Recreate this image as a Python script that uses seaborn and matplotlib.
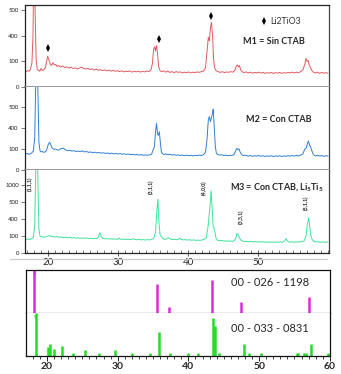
import matplotlib
matplotlib.use("Agg")
import matplotlib.pyplot as plt
from matplotlib.ticker import MultipleLocator, FixedLocator, NullLocator
from matplotlib.lines import Line2D
import seaborn as sns

# ---- data ----
# M1 = Sin CTAB (red)
m1_2theta = [16.7, 16.9, 17.1, 17.3, 17.5, 17.7, 17.85, 18.0, 18.15, 18.3, 18.45, 18.6, 18.8, 19.0,
             19.2, 19.4, 19.6, 19.8, 19.95, 20.1, 20.3, 20.5, 20.7, 20.9, 21.1, 21.3, 21.5, 21.8,
             22.1, 22.4, 22.7, 23.0, 23.3, 23.6, 23.9, 24.2, 24.5, 24.8, 25.1, 25.4, 25.7, 26.0,
             26.3, 26.6, 26.9, 27.2, 27.5, 27.8, 28.1, 28.4, 28.7, 29.0, 29.3, 29.6, 29.9, 30.2,
             30.5, 30.8, 31.1, 31.4, 31.7, 32.0, 32.3, 32.6, 32.9, 33.2, 33.5, 33.8, 34.1, 34.4,
             34.7, 34.9, 35.1, 35.25, 35.35, 35.5, 35.65, 35.8, 36.0, 36.2, 36.5, 36.8, 37.1, 37.4,
             37.7, 38.0, 38.3, 38.6, 38.9, 39.2, 39.5, 39.8, 40.1, 40.4, 40.7, 41.0, 41.3, 41.6,
             41.9, 42.2, 42.5, 42.75, 42.9, 43.05, 43.2, 43.35, 43.5, 43.65, 43.8, 44.0, 44.3, 44.6,
             44.9, 45.2, 45.5, 45.8, 46.1, 46.4, 46.7, 46.9, 47.05, 47.2, 47.35, 47.5, 47.7, 48.0,
             48.3, 48.6, 48.9, 49.2, 49.5, 49.8, 50.1, 50.4, 50.7, 51.0, 51.3, 51.6, 51.9, 52.2,
             52.5, 52.8, 53.1, 53.4, 53.7, 54.0, 54.3, 54.6, 54.9, 55.2, 55.5, 55.8, 56.1, 56.4,
             56.7, 56.85, 57.0, 57.15, 57.3, 57.5, 57.7, 57.9, 58.2, 58.5, 58.8, 59.1, 59.4, 59.7,
             60.0]
m1_counts = [66, 60, 64, 62, 70, 95, 200, 520, 300, 110, 70, 66, 62, 72,
             64, 68, 75, 100, 120, 108, 90, 84, 95, 86, 88, 80, 84, 78,
             82, 76, 79, 74, 77, 72, 75, 70, 74, 78, 72, 70, 73, 68,
             71, 66, 70, 65, 68, 64, 67, 63, 66, 62, 65, 61, 64, 60,
             63, 59, 62, 60, 63, 58, 61, 59, 62, 58, 61, 59, 62, 60,
             66, 90, 150, 157, 140, 162, 130, 80, 64, 60, 63, 58, 62, 57,
             60, 56, 60, 57, 59, 55, 58, 56, 59, 55, 58, 56, 59, 57,
             60, 62, 75, 150, 194, 180, 230, 252, 200, 110, 75, 64, 60, 57,
             60, 56, 59, 57, 60, 58, 65, 82, 86, 78, 84, 68, 60, 56,
             59, 55, 58, 54, 57, 55, 58, 54, 57, 53, 56, 54, 57, 53,
             56, 54, 57, 53, 56, 54, 57, 55, 58, 55, 58, 56, 60, 66,
             90, 112, 100, 104, 88, 75, 64, 58, 55, 58, 53, 57, 54, 56,
             53]

# M2 = Con CTAB (blue)
m2_2theta = [16.7, 16.9, 17.1, 17.3, 17.5, 17.7, 17.9, 18.1, 18.25, 18.4, 18.55, 18.7, 18.85, 19.0,
             19.2, 19.4, 19.6, 19.8, 20.0, 20.2, 20.35, 20.5, 20.7, 20.9, 21.1, 21.3, 21.5, 21.7,
             21.9, 22.2, 22.5, 22.8, 23.1, 23.4, 23.7, 24.0, 24.3, 24.6, 24.9, 25.2, 25.5, 25.8,
             26.1, 26.4, 26.7, 27.0, 27.3, 27.6, 27.9, 28.2, 28.5, 28.8, 29.1, 29.4, 29.7, 30.0,
             30.3, 30.6, 30.9, 31.2, 31.5, 31.8, 32.1, 32.4, 32.7, 33.0, 33.3, 33.6, 33.9, 34.2,
             34.5, 34.8, 35.0, 35.2, 35.35, 35.5, 35.65, 35.75, 35.9, 36.05, 36.2, 36.4, 36.6, 36.8,
             37.1, 37.4, 37.7, 38.0, 38.3, 38.6, 38.9, 39.2, 39.5, 39.8, 40.1, 40.4, 40.7, 41.0,
             41.3, 41.6, 41.9, 42.2, 42.5, 42.7, 42.9, 43.05, 43.2, 43.35, 43.5, 43.6, 43.75, 43.9,
             44.05, 44.2, 44.5, 44.8, 45.1, 45.4, 45.7, 46.0, 46.3, 46.6, 46.85, 47.0, 47.15, 47.3,
             47.45, 47.7, 48.0, 48.3, 48.6, 48.9, 49.2, 49.5, 49.8, 50.1, 50.4, 50.7, 51.0, 51.3,
             51.6, 51.9, 52.2, 52.5, 52.8, 53.1, 53.4, 53.7, 54.0, 54.3, 54.6, 54.9, 55.2, 55.5,
             55.8, 56.1, 56.4, 56.7, 56.9, 57.05, 57.2, 57.35, 57.5, 57.65, 57.85, 58.0, 58.2, 58.5,
             58.8, 59.1, 59.4, 59.7, 60.0]
m2_counts = [80, 76, 79, 74, 78, 82, 90, 150, 420, 700, 380, 130, 92, 86,
             88, 84, 86, 95, 118, 132, 125, 108, 102, 98, 100, 96, 94, 99,
             102, 104, 96, 92, 94, 90, 92, 88, 90, 87, 91, 86, 88, 84,
             86, 82, 85, 81, 84, 80, 82, 79, 81, 78, 80, 77, 79, 76,
             78, 75, 77, 74, 76, 73, 75, 72, 74, 71, 73, 70, 72, 70,
             72, 75, 95, 110, 180, 222, 170, 165, 182, 130, 85, 76, 74, 77,
             73, 75, 71, 73, 70, 72, 69, 71, 68, 71, 68, 70, 67, 70,
             68, 71, 69, 73, 85, 140, 240, 254, 230, 250, 270, 289, 200, 110,
             80, 74, 71, 73, 69, 71, 68, 70, 69, 75, 95, 103, 96, 100,
             85, 72, 68, 70, 66, 69, 65, 68, 66, 69, 65, 68, 64, 67,
             65, 68, 64, 67, 65, 68, 64, 67, 65, 68, 66, 69, 66, 70,
             67, 71, 76, 100, 105, 125, 138, 120, 111, 95, 78, 71, 67, 70,
             66, 69, 65, 68, 66]

# M3 = Con CTAB, Li5Ti5 (green)
m3_2theta = [16.7, 16.9, 17.1, 17.3, 17.5, 17.7, 17.9, 18.1, 18.25, 18.4, 18.55, 18.7, 18.85, 19.0,
             19.2, 19.4, 19.6, 19.8, 20.0, 20.2, 20.4, 20.6, 20.8, 21.0, 21.3, 21.6, 21.9, 22.2,
             22.5, 22.8, 23.1, 23.4, 23.7, 24.0, 24.3, 24.6, 24.9, 25.2, 25.5, 25.8, 26.1, 26.4,
             26.7, 27.0, 27.2, 27.4, 27.55, 27.8, 28.1, 28.4, 28.7, 29.0, 29.3, 29.6, 29.9, 30.1,
             30.3, 30.6, 30.9, 31.2, 31.5, 31.8, 32.1, 32.4, 32.7, 33.0, 33.3, 33.6, 33.9, 34.2,
             34.5, 34.8, 35.1, 35.35, 35.55, 35.7, 35.85, 36.0, 36.15, 36.35, 36.6, 36.9, 37.2, 37.4,
             37.7, 38.0, 38.3, 38.6, 38.8, 39.0, 39.3, 39.6, 39.9, 40.2, 40.5, 40.8, 41.1, 41.4,
             41.7, 42.0, 42.3, 42.6, 42.85, 43.15, 43.3, 43.45, 43.6, 43.7, 43.85, 44.0, 44.2, 44.5,
             44.8, 45.1, 45.4, 45.7, 46.0, 46.3, 46.6, 46.85, 47.0, 47.15, 47.3, 47.5, 47.8, 48.1,
             48.4, 48.7, 49.0, 49.3, 49.6, 49.9, 50.2, 50.5, 50.8, 51.1, 51.4, 51.7, 52.0, 52.3,
             52.6, 52.9, 53.2, 53.5, 53.8, 54.0, 54.2, 54.5, 54.8, 55.1, 55.4, 55.7, 56.0, 56.3,
             56.6, 56.85, 57.05, 57.25, 57.4, 57.55, 57.75, 58.0, 58.3, 58.6, 58.9, 59.2, 59.5, 59.8,
             60.0]
m3_counts = [84, 80, 83, 79, 82, 85, 92, 160, 500, 900, 420, 140, 100, 94,
             96, 92, 94, 96, 99, 102, 100, 96, 98, 94, 96, 92, 94, 90,
             93, 89, 92, 88, 91, 87, 90, 86, 89, 86, 88, 85, 87, 84,
             86, 85, 95, 119, 100, 86, 83, 85, 82, 84, 81, 83, 80, 88,
             82, 80, 82, 79, 81, 78, 84, 80, 78, 80, 77, 79, 76, 79,
             77, 80, 86, 120, 250, 316, 180, 110, 100, 88, 80, 82, 90, 84,
             79, 81, 78, 80, 88, 80, 77, 79, 76, 78, 75, 77, 74, 76,
             74, 77, 80, 90, 150, 280, 365, 260, 150, 149, 120, 88, 76, 72,
             74, 70, 72, 69, 71, 68, 72, 90, 116, 108, 95, 78, 70, 67,
             69, 66, 68, 65, 67, 64, 67, 64, 66, 63, 66, 63, 65, 62,
             65, 63, 66, 63, 72, 84, 70, 64, 66, 63, 66, 64, 67, 66,
             72, 100, 170, 208, 150, 100, 78, 68, 65, 67, 63, 66, 63, 65,
             64]

# Li2TiO3 reflections marked in M1 (position, marker height)
li2tio3_pos = [19.96, 35.9, 43.3]
li2tio3_mark = [151, 187, 279]

# spinel hkl labels on M3 (position, label height)
hkl_labels = ["(1,1,1)", "(3,1,1)", "(4,0,0)", "(3,3,1)", "(5,1,1)"]
hkl_pos = [17.4, 34.7, 42.3, 47.6, 56.9]
hkl_y = [409, 391, 385, 215, 297]

# reference cards (relative intensity)
card_1198_pos = [18.2, 35.6, 37.3, 43.3, 47.4, 57.1]
card_1198_int = [100, 67, 15, 77, 25, 37]
card_0831_pos = [18.4, 20.2, 20.4, 21.0, 22.1, 23.7, 25.4, 27.4, 29.6, 32.0, 34.6, 35.8, 37.4,
                 40.0, 41.3, 43.5, 43.7, 44.3, 47.8, 48.6, 50.3, 55.3, 55.5, 56.3, 56.6, 57.4, 59.7]
card_0831_int = [100, 21, 27, 17, 24, 8, 13, 8, 14, 8, 8, 55, 8,
                 8, 8, 89, 69, 8, 27, 8, 8, 8, 8, 8, 8, 29, 8]

ytick_vals = [0, 100, 200, 300]
ytick_text = ["0", "100", "400", "500"]
ytick_vals3 = [0, 100, 200, 300, 400]
ytick_text3 = ["0", "100", "400", "500", "1000"]
xtick_top = [20, 30, 40, 50]

# ---- figure ----
sns.set_style("white")
plt.rcParams['font.family'] = ['Lato', 'DejaVu Sans']

W, H = 341, 374
fig = plt.figure(figsize=(W / 100, H / 100), dpi=100)


def px_box(x0, y0, x1, y1):
    return [x0 / W, 1 - y1 / H, (x1 - x0) / W, (y1 - y0) / H]


ax1 = fig.add_axes(px_box(25, 5, 329, 87))
ax2 = fig.add_axes(px_box(25, 87, 329, 170))
ax3 = fig.add_axes(px_box(25, 170, 329, 253))
ax4 = fig.add_axes(px_box(26, 270, 330, 313))
ax5 = fig.add_axes(px_box(26, 313, 330, 356))

sns.lineplot(x=m1_2theta, y=m1_counts, ax=ax1, color="#e45a60", lw=0.7)
sns.lineplot(x=m2_2theta, y=m2_counts, ax=ax2, color="#3080d4", lw=0.7)
sns.lineplot(x=m3_2theta, y=m3_counts, ax=ax3, color="#3ee39c", lw=0.7)

ax1.plot(li2tio3_pos, li2tio3_mark, ls="none", marker="d", ms=4, color="black", mew=0)

for lab, xp, yp in zip(hkl_labels, hkl_pos, hkl_y):
    ax3.text(xp, yp, lab, rotation=90, fontsize=3.8, ha="center", va="center",
             color="#222222", fontweight="bold")

for ax, top, ticks, labels in [(ax1, 320, ytick_vals, ytick_text),
                               (ax2, 395, ytick_vals, ytick_text),
                               (ax3, 488, ytick_vals3, ytick_text3)]:
    ax.set_xlim(16.71, 60.14)
    ax.set_ylim(0, top)
    ax.yaxis.set_major_locator(FixedLocator(ticks))
    ax.set_yticklabels(labels)
    ax.tick_params(axis="y", left=True, direction="out", length=3, width=0.6,
                   color="#666666", labelsize=4.3, labelcolor="#222222", pad=1.5)
    ax.set_xlabel("")
    ax.set_ylabel("")
    for s in ax.spines.values():
        s.set_linewidth(0.9)
        s.set_color("#222222")
    ax.spines["right"].set_color("#444444")

for ax in (ax1, ax2):
    ax.xaxis.set_major_locator(NullLocator())
    ax.spines["bottom"].set_color("#9a9a9a")
    ax.spines["bottom"].set_linewidth(1.4)
ax2.spines["top"].set_visible(False)
ax3.spines["top"].set_visible(False)

ax3.xaxis.set_major_locator(FixedLocator(xtick_top))
ax3.xaxis.set_minor_locator(MultipleLocator(1))
ax3.tick_params(axis="x", which="major", bottom=True, direction="inout", length=5,
                width=0.6, color="#444444", labelsize=7, pad=1)
ax3.tick_params(axis="x", which="minor", bottom=True, direction="in", length=2.2,
                width=0.5, color="#444444")

# reference patterns
ax4.vlines(card_1198_pos, 0, card_1198_int, color="#dc2adc", lw=1.8)
ax5.vlines(card_0831_pos, 0, card_0831_int, color="#22dd22", lw=1.8)
for ax in (ax4, ax5):
    ax.set_xlim(17.03, 60.03)
    ax.set_ylim(0, 100)
    ax.yaxis.set_major_locator(NullLocator())
    for s in ax.spines.values():
        s.set_linewidth(0.9)
        s.set_color("#111111")
ax4.xaxis.set_major_locator(NullLocator())
ax4.spines["bottom"].set_color("#555555")
ax5.spines["top"].set_visible(False)
ax5.xaxis.set_major_locator(MultipleLocator(10))
ax5.xaxis.set_minor_locator(MultipleLocator(1))
ax5.tick_params(axis="x", which="major", bottom=True, direction="out", length=3.5,
                width=0.7, color="#222222", labelsize=7.5, pad=1)
ax5.tick_params(axis="x", which="minor", bottom=True, direction="out", length=1.8,
                width=0.6, color="#222222")
for t in ax5.get_xticklabels():
    t.set_fontweight("bold")

ax4.text(18.2, 97, "d", color="#c040c0", fontsize=4.5, ha="center", va="top")
ax5.text(18.4, 97, "c", color="#30c030", fontsize=4.5, ha="center", va="top")

# labels
fig.text(270 / W, 1 - 21 / H, "Li2TiO3", fontsize=6.3, color="#333333", va="center")
fig.add_artist(Line2D([264 / W], [1 - 20.5 / H], marker="d", ms=4, color="black", mew=0))
fig.text(243 / W, 1 - 41 / H, "M1 = Sin CTAB", fontsize=6.5, fontweight="bold", va="center")
fig.text(246 / W, 1 - 120 / H, "M2 = Con CTAB", fontsize=6.5, fontweight="bold", va="center")
fig.text(230 / W, 1 - 187 / H, "M3 = Con CTAB, Li$_{\\mathregular{5}}$Ti$_{\\mathregular{5}}$",
         fontsize=6.5, fontweight="bold", va="center")
fig.text(231 / W, 1 - 282 / H, "00 - 026 - 1198", fontsize=8, va="center")
fig.text(231 / W, 1 - 328 / H, "00 - 033 - 0831", fontsize=8, va="center")

fig.add_artist(Line2D([10 / W, 327 / W], [1 - 259 / H, 1 - 259 / H], color="#c8c8c8", lw=0.8))

fig.savefig("out.png", dpi=100)
